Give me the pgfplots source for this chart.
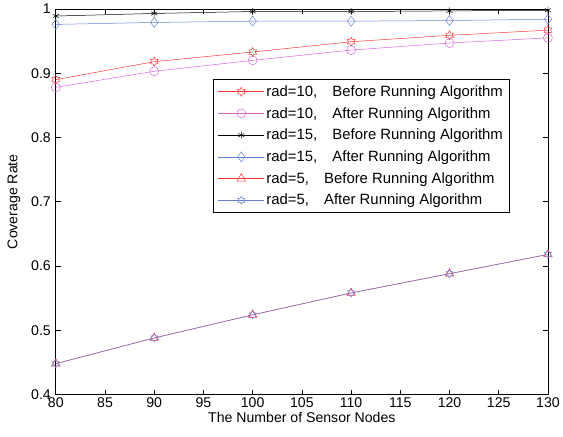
\documentclass[border=0pt]{standalone}
\usepackage{fontspec}
\setmainfont{Liberation Sans}
\usepackage{pgfplots}
\pgfplotsset{compat=1.18}

\definecolor{mred}{rgb}{1,0.2,0.2}
\definecolor{mmag}{rgb}{0.85,0.4,0.85}
\definecolor{mblue}{rgb}{0.4,0.5,0.85}

% outline hexagram like MATLAB's 'h' marker
\pgfdeclareplotmark{hexagram}{%
  \pgfpathmoveto{\pgfpointpolar{90}{\pgfplotmarksize}}%
  \pgfpathlineto{\pgfpointpolar{120}{0.577\pgfplotmarksize}}%
  \pgfpathlineto{\pgfpointpolar{150}{\pgfplotmarksize}}%
  \pgfpathlineto{\pgfpointpolar{180}{0.577\pgfplotmarksize}}%
  \pgfpathlineto{\pgfpointpolar{210}{\pgfplotmarksize}}%
  \pgfpathlineto{\pgfpointpolar{240}{0.577\pgfplotmarksize}}%
  \pgfpathlineto{\pgfpointpolar{270}{\pgfplotmarksize}}%
  \pgfpathlineto{\pgfpointpolar{300}{0.577\pgfplotmarksize}}%
  \pgfpathlineto{\pgfpointpolar{330}{\pgfplotmarksize}}%
  \pgfpathlineto{\pgfpointpolar{0}{0.577\pgfplotmarksize}}%
  \pgfpathlineto{\pgfpointpolar{30}{\pgfplotmarksize}}%
  \pgfpathlineto{\pgfpointpolar{60}{0.577\pgfplotmarksize}}%
  \pgfpathclose
  \pgfusepathqstroke}

\newcommand{\gap}{\ \hspace{11bp}}

\begin{document}
\begin{tikzpicture}
\begin{axis}[
    name=ax,
    scale only axis,
    width=494bp, height=387bp,
    xmin=80, xmax=130, ymin=0.4, ymax=1,
    xtick={80,85,...,130},
    ytick={0.4,0.5,...,1.0},
    yticklabels={0.4,0.5,0.6,0.7,0.8,0.9,1},
    tick align=inside,
    major tick length=5bp,
    axis line style={line width=0.8pt},
    every tick/.style={black, line width=0.6pt},
    xlabel={The Number of Sensor Nodes},
    ylabel={Coverage Rate},
    font=\fontsize{14.2}{17}\selectfont,
    /pgf/number format/assume math mode=true,
    yticklabel style={xshift=-1.5bp},
    xticklabel style={yshift=0bp},
    xlabel style={yshift=3bp},
    ylabel style={yshift=4bp},
    legend cell align=left,
    legend style={at={(0.32,0.819)}, anchor=north west,
        draw=black, line width=0.8pt, font=\fontsize{15}{17}\selectfont,
        row sep=5.5pt, inner sep=4.5pt,
        /tikz/every even column/.append style={column sep=2pt}},
    legend image code/.code={%
        \draw[mark repeat=2,mark phase=2] plot coordinates {(0bp,0bp) (23bp,0bp) (46bp,0bp)};},
    every axis plot/.append style={line width=0.5pt},
]
\addplot[mred, mark=hexagram, mark size=4.5bp] coordinates {
 (80,0.890) (90,0.918) (100,0.933) (110,0.949) (120,0.959) (130,0.967)};
\addlegendentry{rad=10,\gap Before Running Algorithm}
\addplot[mmag, mark=o, mark size=4.5bp] coordinates {
 (80,0.878) (90,0.903) (100,0.920) (110,0.936) (120,0.947) (130,0.955)};
\addlegendentry{rad=10,\gap After Running Algorithm}
\addplot[black, mark=asterisk, mark size=3.5bp] coordinates {
 (80,0.989) (90,0.993) (100,0.996) (110,0.996) (120,0.997) (130,0.998)};
\addlegendentry{rad=15,\gap Before Running Algorithm}
\addplot[mblue, mark=diamond, mark size=5bp] coordinates {
 (80,0.976) (90,0.979) (100,0.981) (110,0.981) (120,0.982) (130,0.984)};
\addlegendentry{rad=15,\gap After Running Algorithm}
\addplot[mred, mark=triangle, mark size=5bp] coordinates {
 (80,0.448) (90,0.488) (100,0.524) (110,0.558) (120,0.588) (130,0.618)};
\addlegendentry{rad=5,\gap Before Running Algorithm}
\addplot[mblue, mark=hexagram, mark size=4bp] coordinates {
 (80,0.448) (90,0.488) (100,0.524) (110,0.558) (120,0.588) (130,0.618)};
\addlegendentry{rad=5,\gap After Running Algorithm}
\end{axis}
% fix the page to the reference's margins around the axis box
\path ([xshift=-56bp,yshift=-42bp]ax.south west) rectangle ([xshift=13bp,yshift=9bp]ax.north east);
\end{tikzpicture}
\end{document}
